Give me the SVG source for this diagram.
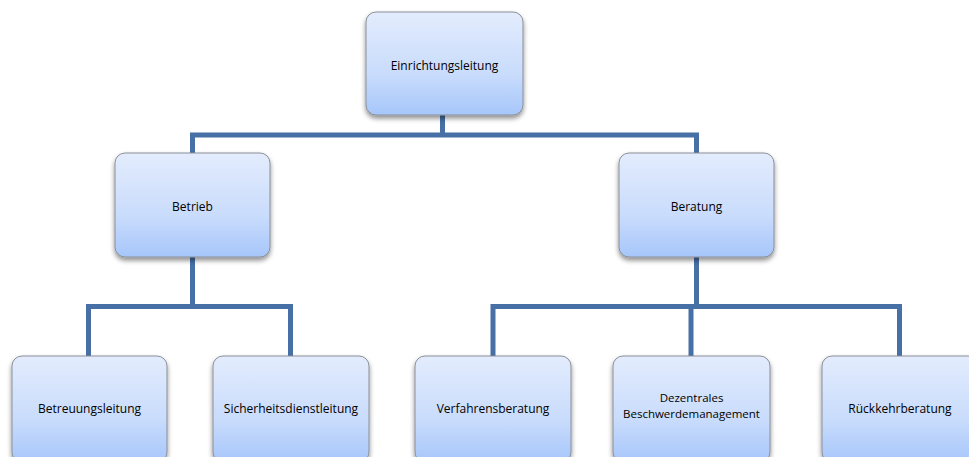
<svg xmlns="http://www.w3.org/2000/svg" width="969" height="457" viewBox="0 0 969 457">
<defs>
<linearGradient id="g" x1="0" y1="0" x2="0" y2="1">
<stop offset="0" stop-color="#e3ecfd"/>
<stop offset="0.6" stop-color="#c9dcfc"/>
<stop offset="1" stop-color="#a6c6fa"/>
</linearGradient>
<filter id="sh" x="-10%" y="-10%" width="120%" height="130%">
<feGaussianBlur in="SourceAlpha" stdDeviation="2.5"/>
<feOffset dx="0" dy="3" result="b"/>
<feComponentTransfer><feFuncA type="linear" slope="0.45"/></feComponentTransfer>
<feMerge><feMergeNode/><feMergeNode in="SourceGraphic"/></feMerge>
</filter>
</defs>
<style>
.box{fill:url(#g);stroke:#8a8f99;stroke-width:1;filter:url(#sh)}
.t{font-family:"Open Sans","Noto Sans",sans-serif;font-size:12px;fill:#000;text-anchor:middle}
.s{font-size:11.5px}
.c{fill:none;stroke:#4670a6;stroke-width:5;stroke-linejoin:miter}
</style>
<g id="connectors">
<path class="c" d="M442.5 115 V135 M192.5 153 V135 H696.5 V153"/>
<path class="c" d="M192.5 257 V306.5 M88.5 356 V306.5 H290.5 V356"/>
<path class="c" d="M696.5 257 V306.5 M493 356 V306.5 H899.5 V356 M691 306.5 V356"/>
</g>
<g id="n-einrichtungsleitung">
<rect class="box" x="366" y="12" width="157" height="103" rx="10"/>
<text class="t" x="444.5" y="70">Einrichtungsleitung</text>
</g>
<g id="n-betrieb">
<rect class="box" x="115" y="153" width="155" height="104" rx="10"/>
<text class="t" x="192.5" y="211">Betrieb</text>
</g>
<g id="n-beratung">
<rect class="box" x="619" y="153" width="155" height="104" rx="10"/>
<text class="t" x="696.5" y="211">Beratung</text>
</g>
<g id="n-betreuungsleitung">
<rect class="box" x="12" y="356" width="155" height="106" rx="10"/>
<text class="t" x="89.5" y="413">Betreuungsleitung</text>
</g>
<g id="n-sicherheitsdienstleitung">
<rect class="box" x="213" y="356" width="156" height="106" rx="10"/>
<text class="t" x="291" y="413">Sicherheitsdienstleitung</text>
</g>
<g id="n-verfahrensberatung">
<rect class="box" x="415" y="356" width="156" height="106" rx="10"/>
<text class="t" x="493" y="413">Verfahrensberatung</text>
</g>
<g id="n-dezentrales">
<rect class="box" x="613" y="356" width="157" height="106" rx="10"/>
<text class="t s" x="691.5" y="402">Dezentrales</text>
<text class="t s" x="691.5" y="418">Beschwerdemanagement</text>
</g>
<g id="n-rueckkehrberatung">
<rect class="box" x="822" y="356" width="156" height="106" rx="10"/>
<text class="t" x="900" y="413">Rückkehrberatung</text>
</g>
</svg>
